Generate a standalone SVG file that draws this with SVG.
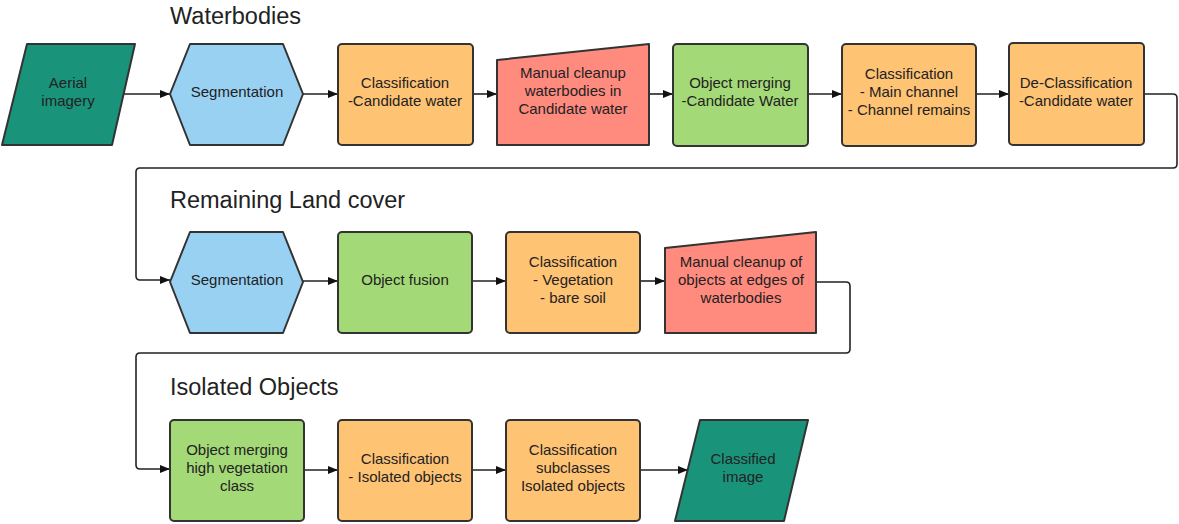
<svg xmlns="http://www.w3.org/2000/svg" width="1179" height="524" viewBox="0 0 1179 524">
<style>
.n{stroke:#333;stroke-width:2;stroke-linejoin:round}
.teal{fill:#19947a}.blue{fill:#99d1f3}.org{fill:#ffc374}.red{fill:#ff8a7e}.grn{fill:#a3d977}
.t{font-family:"Liberation Sans",Arial,sans-serif;font-size:15px;fill:#222;text-anchor:middle}
.h{font-family:"Liberation Sans",Arial,sans-serif;font-size:23.5px;fill:#222}
.c{fill:none;stroke:#222;stroke-width:1.6}
</style>
<defs>
<marker id="a" viewBox="0 0 10 8" refX="10" refY="4" markerWidth="10" markerHeight="8" markerUnits="userSpaceOnUse" orient="auto">
<path d="M0,0L10,4L0,8z" fill="#111"/>
</marker>
</defs>
<rect width="1179" height="524" fill="#fff"/>
<text class="h" x="170" y="24">Waterbodies</text>
<text class="h" x="170" y="208">Remaining Land cover</text>
<text class="h" x="170" y="395">Isolated Objects</text>
<g id="connectors">
<path class="c" d="M123,94H170" marker-end="url(#a)"/>
<path class="c" d="M303,94H338" marker-end="url(#a)"/>
<path class="c" d="M473,94H497" marker-end="url(#a)"/>
<path class="c" d="M649,94H673" marker-end="url(#a)"/>
<path class="c" d="M808,94H842" marker-end="url(#a)"/>
<path class="c" d="M976,94H1009" marker-end="url(#a)"/>
<path class="c" d="M1144,94H1173Q1177,94 1177,98V164Q1177,168 1173,168H140Q136,168 136,172V276Q136,280 140,280H170" marker-end="url(#a)"/>
<path class="c" d="M303,281H338" marker-end="url(#a)"/>
<path class="c" d="M472,281H506" marker-end="url(#a)"/>
<path class="c" d="M640,281H665" marker-end="url(#a)"/>
<path class="c" d="M816,282H846Q850,282 850,286V349Q850,353 846,353H140Q136,353 136,357V465Q136,469 140,469H170" marker-end="url(#a)"/>
<path class="c" d="M304,470H338" marker-end="url(#a)"/>
<path class="c" d="M472,470H506" marker-end="url(#a)"/>
<path class="c" d="M640,470H688" marker-end="url(#a)"/>
</g>
<g id="aerial">
<path class="n teal" d="M27,44H135L112,145H2Z"/>
<text class="t" x="68" y="88">Aerial</text><text class="t" x="68" y="106">imagery</text>
</g>
<g id="seg1">
<path class="n blue" d="M170,94L190,44H283L303,94L283,145H190Z"/>
<text class="t" x="237" y="97">Segmentation</text>
</g>
<g id="class1">
<rect class="n org" x="338" y="44" width="135" height="101" rx="4"/>
<text class="t" x="405" y="88">Classification</text><text class="t" x="405" y="106">-Candidate water</text>
</g>
<g id="manual1">
<path class="n red" d="M497,60L649,44V145H497Z"/>
<text class="t" x="573" y="78">Manual cleanup</text><text class="t" x="573" y="96">waterbodies in</text><text class="t" x="573" y="114">Candidate water</text>
</g>
<g id="merge1">
<rect class="n grn" x="673" y="44" width="135" height="102" rx="4"/>
<text class="t" x="740" y="88">Object merging</text><text class="t" x="740" y="106">-Candidate Water</text>
</g>
<g id="class2">
<rect class="n org" x="842" y="44" width="134" height="102" rx="4"/>
<text class="t" x="909" y="79">Classification</text><text class="t" x="909" y="97">- Main channel</text><text class="t" x="909" y="115">- Channel remains</text>
</g>
<g id="declass">
<rect class="n org" x="1009" y="43" width="135" height="102" rx="4"/>
<text class="t" x="1076" y="88">De-Classification</text><text class="t" x="1076" y="106">-Candidate water</text>
</g>
<g id="seg2">
<path class="n blue" d="M170,282L190,232H283L303,282L283,333H190Z"/>
<text class="t" x="237" y="285">Segmentation</text>
</g>
<g id="fusion">
<rect class="n grn" x="338" y="232" width="134" height="101" rx="4"/>
<text class="t" x="405" y="285">Object fusion</text>
</g>
<g id="class3">
<rect class="n org" x="506" y="232" width="134" height="101" rx="4"/>
<text class="t" x="573" y="267">Classification</text><text class="t" x="573" y="285">- Vegetation</text><text class="t" x="573" y="303">- bare soil</text>
</g>
<g id="manual2">
<path class="n red" d="M665,248L816,232V333H665Z"/>
<text class="t" x="741" y="267">Manual cleanup of</text><text class="t" x="741" y="285">objects at edges of</text><text class="t" x="741" y="303">waterbodies</text>
</g>
<g id="merge2">
<rect class="n grn" x="170" y="420" width="134" height="101" rx="4"/>
<text class="t" x="237" y="455">Object merging</text><text class="t" x="237" y="473">high vegetation</text><text class="t" x="237" y="491">class</text>
</g>
<g id="class4">
<rect class="n org" x="338" y="420" width="134" height="101" rx="4"/>
<text class="t" x="405" y="464">Classification</text><text class="t" x="405" y="482">- Isolated objects</text>
</g>
<g id="class5">
<rect class="n org" x="506" y="420" width="134" height="101" rx="4"/>
<text class="t" x="573" y="455">Classification</text><text class="t" x="573" y="473">subclasses</text><text class="t" x="573" y="491">Isolated objects</text>
</g>
<g id="classified">
<path class="n teal" d="M700,420H808L784,521H675Z"/>
<text class="t" x="743" y="464">Classified</text><text class="t" x="743" y="482">image</text>
</g>
</svg>
